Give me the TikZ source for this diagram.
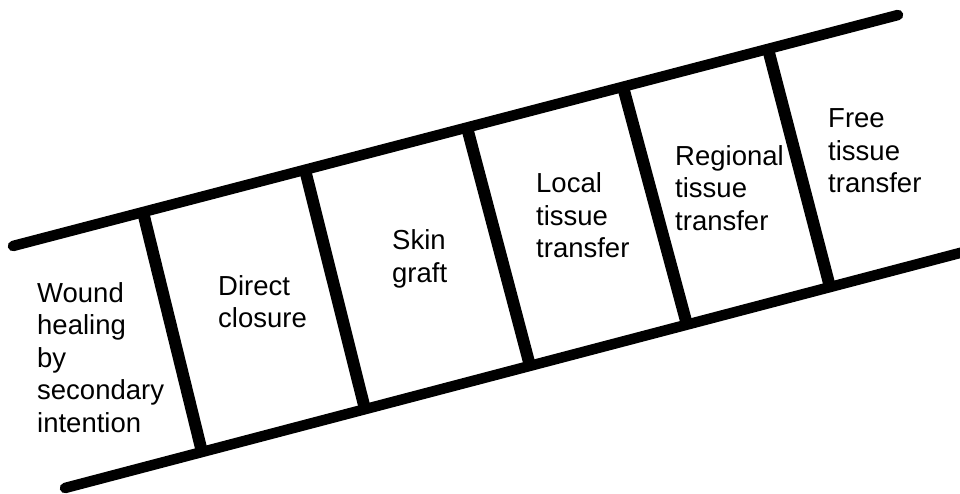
\documentclass[tikz,border=0pt]{standalone}
\usepackage{fontspec}
\setmainfont{Liberation Sans}
\usetikzlibrary{calc}
\begin{document}
\begin{tikzpicture}[x=1pt,y=-1pt,
  rail/.style={line width=10.5pt,line cap=round},
  rung/.style={line width=12pt},
  lbl/.style={anchor=base west,inner sep=0pt,align=left,
    font=\fontsize{27.5pt}{32.5pt}\selectfont}]
\useasboundingbox[fill=white] (0,0) rectangle (960,494);
\clip (0,0) rectangle (960,494);
% rails
\coordinate (t0) at (13,246);
\coordinate (t1) at (898,15);
\coordinate (b0) at (65,488);
\coordinate (b1) at (975,249);
\draw[rail] (t0) -- (t1);
\draw[rail] (b0) -- (b1);
% rungs
\foreach \i/\xa/\xb in {1/143/202, 2/305/365, 3/467/530, 4/623/687, 5/768/830}{
  \coordinate (r\i a) at ($(t0)!{(\xa-13)/885}!(t1)$);
  \coordinate (r\i b) at ($(b0)!{(\xb-65)/910}!(b1)$);
  \draw[rung] (r\i a) -- (r\i b);
}
% labels (anchored at the baseline of the last line)
\node[lbl] (l1) at (37,432) {Wound\\healing\\by\\secondary\\intention};
\node[lbl] (l2) at (218,327.5) {Direct\\closure};
\node[lbl] (l3) at (392,282.5) {Skin\\graft};
\node[lbl] (l4) at (536,258) {Local\\tissue\\transfer};
\node[lbl] (l5) at (675,230) {Regional\\tissue\\transfer};
\node[lbl] (l6) at (828,193) {Free\\tissue\\transfer};
\end{tikzpicture}
\end{document}
